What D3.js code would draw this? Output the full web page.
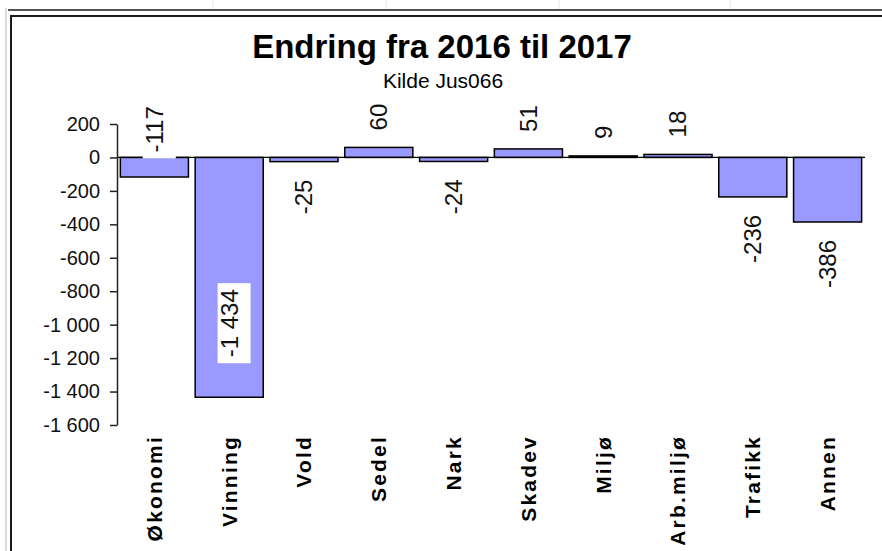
<!DOCTYPE html>
<html>
<head>
<meta charset="utf-8">
<script src="https://cdn.jsdelivr.net/npm/d3@7"></script>
<style>
  body { margin: 0; background: #fff; }
  svg { display: block; font-family: "Liberation Sans", Arial, sans-serif; }
</style>
</head>
<body>
<main></main>
<script>
const categories = ["Økonomi", "Vinning", "Vold", "Sedel", "Nark", "Skadev", "Miljø", "Arb.miljø", "Trafikk", "Annen"]
const changes = [-117, -1434, -25, 60, -24, 51, 9, 18, -236, -386]
// where Excel put each data label
const labelPlacement = ["base", "inside", "outside", "outside", "outside", "outside", "outside", "outside", "outside", "outside"]
const yTicks = [200, 0, -200, -400, -600, -800, -1000, -1200, -1400, -1600]

const width = 882
const height = 551
const margin = { top: 124, bottom: 126, left: 117, right: 17 }

const nb = d3.formatLocale({ decimal: ",", thousands: "\u00a0", grouping: [3], currency: ["", ""], minus: "-" })
const fmt = nb.format(",d")

let svg = d3.select("main")
    .append("svg")
    .attr("width", width)
    .attr("height", height)
    .attr("viewBox", [0, 0, width, height])

// spreadsheet frame around the chart object
svg.append("line").attr("x1", 6).attr("x2", 6).attr("y1", 8).attr("y2", height)
    .attr("stroke", "#dcdcdc").attr("stroke-width", 2)
;[213, 386, 559, 730].forEach(x => {
    svg.append("line").attr("x1", x).attr("x2", x).attr("y1", 0).attr("y2", 9)
        .attr("stroke", "#e6e6e6").attr("stroke-width", 1)
})
svg.append("line").attr("x1", 8).attr("x2", width).attr("y1", 10).attr("y2", 10)
    .attr("stroke", "#1a1a1a").attr("stroke-width", 1.6)
svg.append("line").attr("x1", 10).attr("x2", width).attr("y1", 16).attr("y2", 16)
    .attr("stroke", "#1a1a1a").attr("stroke-width", 2)
svg.append("line").attr("x1", 11).attr("x2", 11).attr("y1", 15).attr("y2", height)
    .attr("stroke", "#1a1a1a").attr("stroke-width", 2)

svg.append("text")
    .attr("x", 442).attr("y", 58)
    .attr("text-anchor", "middle")
    .attr("font-size", 33).attr("font-weight", "bold")
    .text("Endring fra 2016 til 2017")

svg.append("text")
    .attr("x", 443).attr("y", 88)
    .attr("text-anchor", "middle")
    .attr("font-size", 21)
    .text("Kilde Jus066")

let x = d3.scaleBand()
    .domain(categories)
    .range([margin.left, width - margin.right])
    .paddingInner(0.09)
    .paddingOuter(0.045)

let y = d3.scaleLinear()
    .domain([-1600, 200])
    .range([height - margin.bottom, margin.top])

let data = categories.map((c, i) => ({ name: c, value: changes[i], place: labelPlacement[i] }))

svg.append("g")
    .selectAll("rect")
    .data(data)
    .enter().append("rect")
    .attr("x", d => x(d.name))
    .attr("width", x.bandwidth())
    .attr("y", d => y(Math.max(0, d.value)))
    .attr("height", d => Math.abs(y(d.value) - y(0)))
    .attr("fill", "#9999ff")
    .attr("stroke", "#000")
    .attr("stroke-width", 1.5)

// zero line
svg.append("line")
    .attr("x1", margin.left).attr("x2", width - margin.right)
    .attr("y1", y(0)).attr("y2", y(0))
    .attr("stroke", "#000").attr("stroke-width", 1.2)

let yAxis = svg.append("g")
    .attr("transform", `translate(${margin.left},0)`)
    .call(d3.axisLeft(y).tickValues(yTicks).tickFormat(fmt).tickSize(7).tickSizeOuter(0).tickPadding(10))
yAxis.select(".domain").attr("stroke", "#222").attr("stroke-width", 1.5)
yAxis.selectAll(".tick line").attr("stroke", "#222").attr("stroke-width", 1.5)
yAxis.selectAll(".tick text")
    .attr("font-size", 20)
    .attr("font-family", "Liberation Sans, Arial, sans-serif")
    .attr("fill", "#111")

// category labels, rotated
svg.append("g")
    .selectAll("text")
    .data(categories)
    .enter().append("text")
    .attr("transform", d => `translate(${x(d) + x.bandwidth() / 2},435) rotate(-90)`)
    .attr("text-anchor", "end")
    .attr("dy", "0.35em")
    .attr("font-size", 21)
    .attr("font-weight", "bold")
    .attr("letter-spacing", 2.2)
    .text(d => d)

// data labels with white boxes
let labels = svg.append("g")
    .selectAll("g")
    .data(data)
    .enter().append("g")
    .attr("transform", d => {
        let cx = x(d.name) + x.bandwidth() / 2
        let py
        if (d.place === "base") py = y(0) - 5
        else if (d.place === "inside") py = y(d.value) - 40
        else if (d.value >= 0) py = y(d.value) - 17
        else py = y(d.value) + 18
        return `translate(${cx},${py}) rotate(-90)`
    })

labels.append("text")
    .attr("text-anchor", d => (d.place === "outside" && d.value < 0) ? "end" : "start")
    .attr("dy", "0.35em")
    .attr("font-size", 24)
    .attr("fill", "#111")
    .text(d => fmt(d.value))

labels.each(function () {
    let g = d3.select(this)
    let b = g.select("text").node().getBBox()
    g.insert("rect", "text")
        .attr("x", b.x - 6).attr("y", b.y + 2)
        .attr("width", b.width + 12).attr("height", b.height + 6)
        .attr("fill", "#fff")
})
</script>
</body>
</html>
